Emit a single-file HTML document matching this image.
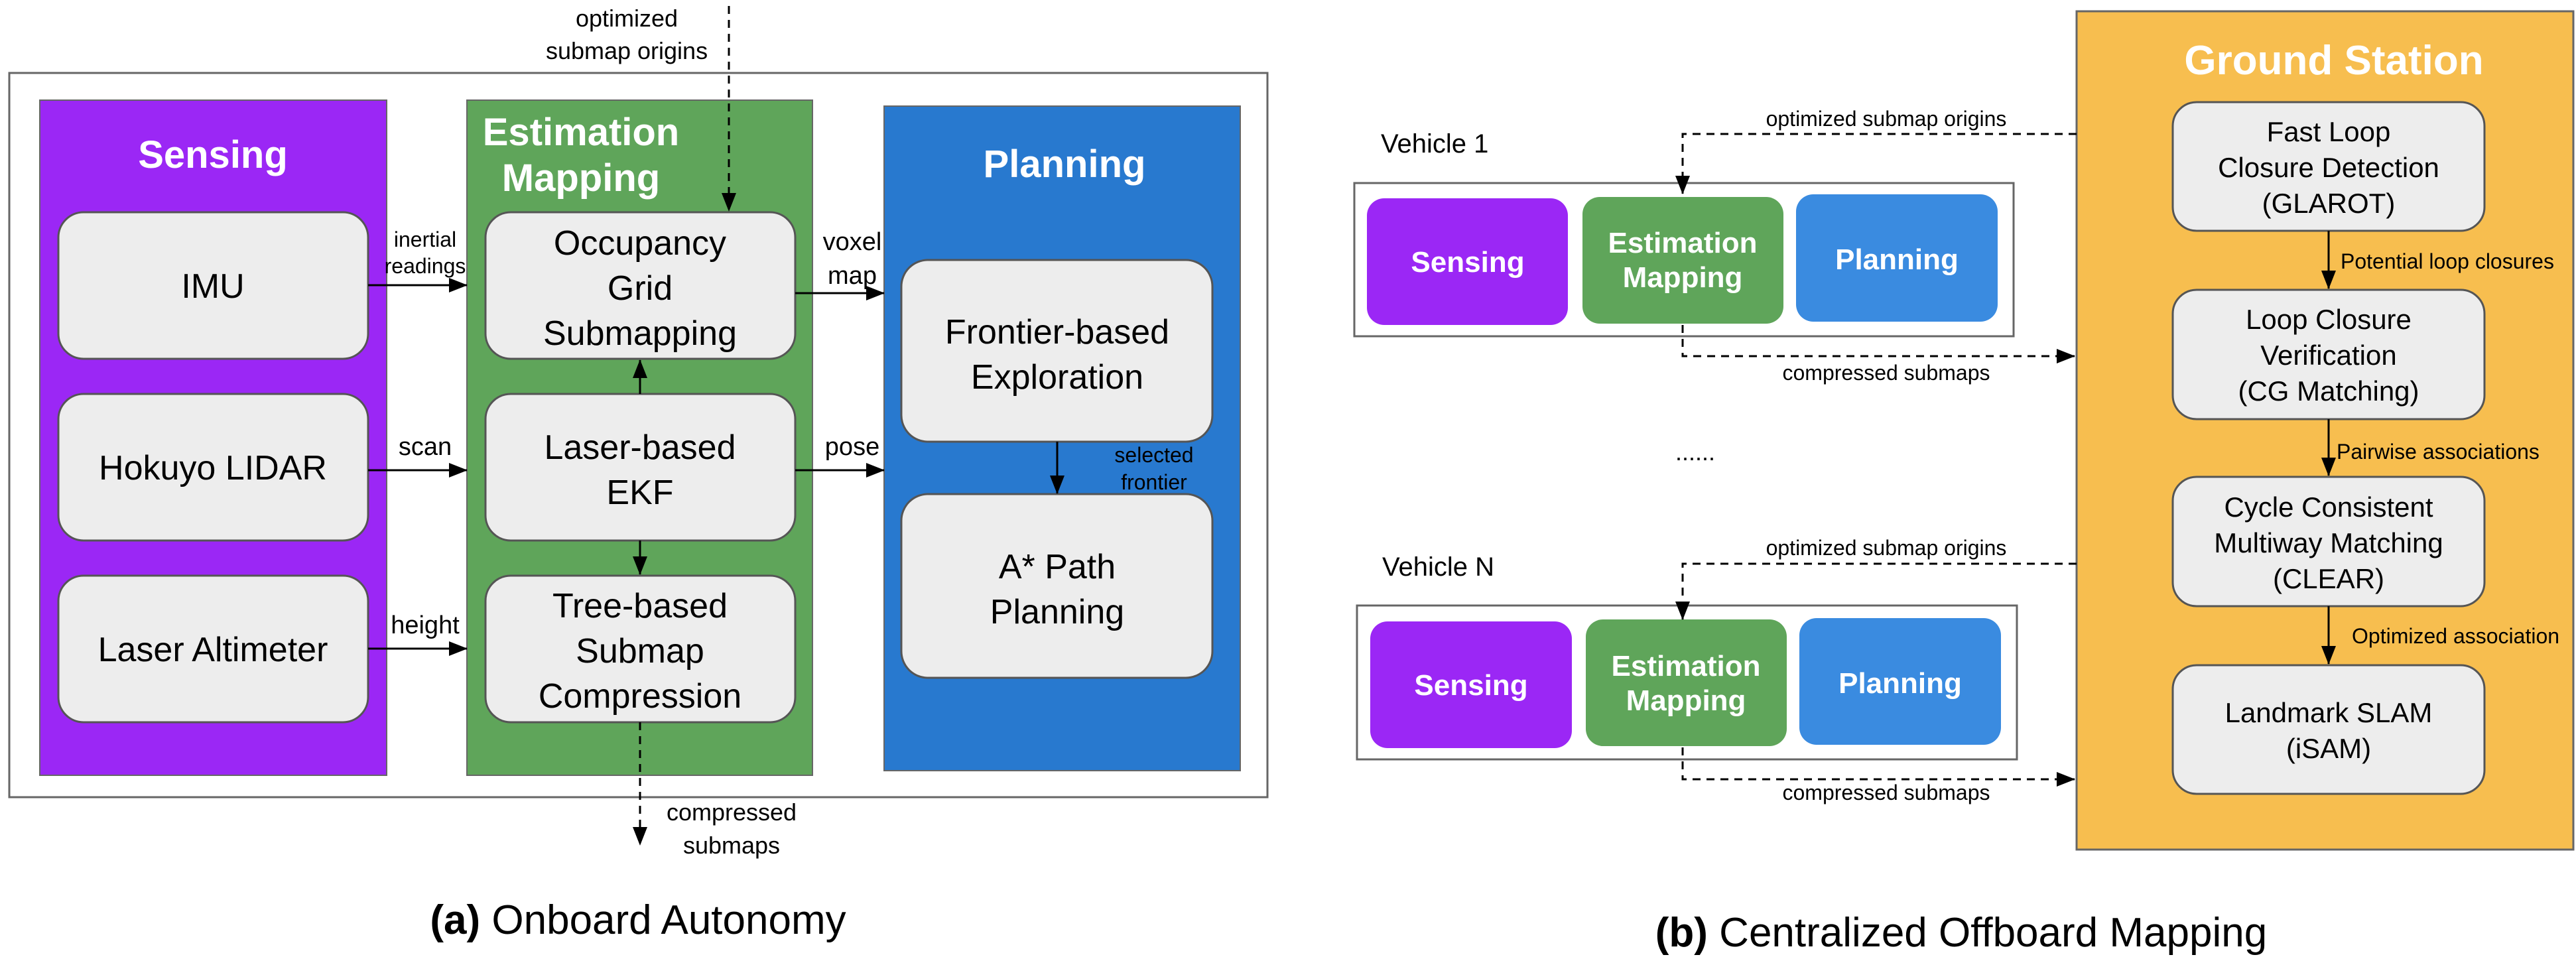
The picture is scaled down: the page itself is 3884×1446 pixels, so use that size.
<!DOCTYPE html>
<html><head><meta charset="utf-8"><style>
html,body{margin:0;padding:0;background:#fff}
svg{display:block}
text{font-family:"Liberation Sans",sans-serif}
</style></head><body>
<svg width="3884" height="1446" viewBox="0 0 3884 1446" xmlns="http://www.w3.org/2000/svg">
<defs>
<marker id="ar" markerWidth="10" markerHeight="8" refX="9.5" refY="4" orient="auto" markerUnits="userSpaceOnUse" viewBox="0 0 10 8"><path d="M0,0 L10,4 L0,8 z" fill="#000"/></marker>
<marker id="a2" markerWidth="28" markerHeight="22" refX="27" refY="11" orient="auto" markerUnits="userSpaceOnUse"><path d="M0,0 L28,11 L0,22 z" fill="#000"/></marker>
</defs>
<!-- LEFT PANEL -->
<rect x="14" y="110" width="1897" height="1092" fill="#fff" stroke="#666" stroke-width="3"/>
<rect x="60" y="151" width="523" height="1018" fill="#9B27F5" stroke="#666" stroke-width="2"/>
<rect x="704" y="151" width="521" height="1018" fill="#5FA55A" stroke="#666" stroke-width="2"/>
<rect x="1333" y="160" width="537" height="1002" fill="#2879CF" stroke="#666" stroke-width="2"/>
<g font-weight="bold" fill="#fff" font-size="58">
<text x="321" y="253" text-anchor="middle">Sensing</text>
<text x="876" y="219" text-anchor="middle">Estimation</text>
<text x="876" y="288" text-anchor="middle">Mapping</text>
<text x="1605" y="267" text-anchor="middle">Planning</text>
</g>
<g fill="#EDEDED" stroke="#555" stroke-width="3">
<rect x="88" y="320" width="467" height="221" rx="38"/>
<rect x="88" y="594" width="467" height="221" rx="38"/>
<rect x="88" y="868" width="467" height="221" rx="38"/>
<rect x="732" y="320" width="467" height="221" rx="38"/>
<rect x="732" y="594" width="467" height="221" rx="38"/>
<rect x="732" y="868" width="467" height="221" rx="38"/>
<rect x="1359" y="392" width="469" height="274" rx="40"/>
<rect x="1359" y="745" width="469" height="277" rx="40"/>
</g>
<g font-size="52" fill="#000" text-anchor="middle">
<text x="321" y="449">IMU</text>
<text x="321" y="723">Hokuyo LIDAR</text>
<text x="321" y="997">Laser Altimeter</text>
<text x="965" y="384">Occupancy</text>
<text x="965" y="452">Grid</text>
<text x="965" y="520">Submapping</text>
<text x="965" y="692">Laser-based</text>
<text x="965" y="760">EKF</text>
<text x="965" y="931">Tree-based</text>
<text x="965" y="999">Submap</text>
<text x="965" y="1067">Compression</text>
<text x="1594" y="518">Frontier-based</text>
<text x="1594" y="586">Exploration</text>
<text x="1594" y="872">A* Path</text>
<text x="1594" y="940">Planning</text>
</g>
<g stroke="#000" stroke-width="3" fill="none">
<line x1="555" y1="430" x2="704" y2="430" marker-end="url(#a2)"/>
<line x1="555" y1="709" x2="704" y2="709" marker-end="url(#a2)"/>
<line x1="555" y1="978" x2="704" y2="978" marker-end="url(#a2)"/>
<line x1="1199" y1="442" x2="1333" y2="442" marker-end="url(#a2)"/>
<line x1="1199" y1="709" x2="1333" y2="709" marker-end="url(#a2)"/>
<line x1="965" y1="594" x2="965" y2="543" marker-end="url(#a2)"/>
<line x1="965" y1="815" x2="965" y2="866" marker-end="url(#a2)"/>
<line x1="1594" y1="666" x2="1594" y2="744" marker-end="url(#a2)"/>
<line x1="1099" y1="9" x2="1099" y2="318" stroke-dasharray="12,9" marker-end="url(#a2)"/>
<line x1="965" y1="1089" x2="965" y2="1274" stroke-dasharray="12,9" marker-end="url(#a2)"/>
</g>
<g font-size="32" fill="#000" text-anchor="middle">
<text x="641" y="372">inertial</text>
<text x="641" y="412">readings</text>
<text x="641" y="686" font-size="38">scan</text>
<text x="641" y="955" font-size="38">height</text>
<text x="1285" y="377" font-size="38">voxel</text>
<text x="1285" y="428" font-size="38">map</text>
<text x="1285" y="686" font-size="38">pose</text>
<text x="1740" y="697">selected</text>
<text x="1740" y="738">frontier</text>
<text x="945" y="40" font-size="36">optimized</text>
<text x="945" y="89" font-size="36">submap origins</text>
<text x="1103" y="1237" font-size="36">compressed</text>
<text x="1103" y="1287" font-size="36">submaps</text>
</g>
<text x="962" y="1408" font-size="62" text-anchor="middle"><tspan font-weight="bold">(a)</tspan> Onboard Autonomy</text>

<!-- RIGHT PANEL -->
<rect x="3131" y="17" width="749" height="1264" fill="#F7BE4F" stroke="#666" stroke-width="3"/>
<text x="3519" y="112" font-size="62" font-weight="bold" fill="#fff" text-anchor="middle">Ground Station</text>
<g fill="#EDEDED" stroke="#555" stroke-width="3">
<rect x="3276" y="154" width="470" height="194" rx="36"/>
<rect x="3276" y="437" width="470" height="195" rx="36"/>
<rect x="3276" y="719" width="470" height="195" rx="36"/>
<rect x="3276" y="1003" width="470" height="194" rx="36"/>
</g>
<g font-size="42" fill="#000" text-anchor="middle">
<text x="3511" y="213">Fast Loop</text>
<text x="3511" y="267">Closure Detection</text>
<text x="3511" y="321">(GLAROT)</text>
<text x="3511" y="496">Loop Closure</text>
<text x="3511" y="550">Verification</text>
<text x="3511" y="604">(CG Matching)</text>
<text x="3511" y="779">Cycle Consistent</text>
<text x="3511" y="833">Multiway Matching</text>
<text x="3511" y="887">(CLEAR)</text>
<text x="3511" y="1089">Landmark SLAM</text>
<text x="3511" y="1143">(iSAM)</text>
</g>
<g stroke="#000" stroke-width="3" fill="none">
<line x1="3511" y1="348" x2="3511" y2="435" marker-end="url(#a2)"/>
<line x1="3511" y1="632" x2="3511" y2="717" marker-end="url(#a2)"/>
<line x1="3511" y1="914" x2="3511" y2="1001" marker-end="url(#a2)"/>
</g>
<g font-size="32" fill="#000">
<text x="3529" y="405">Potential loop closures</text>
<text x="3523" y="692">Pairwise associations</text>
<text x="3546" y="970">Optimized association</text>
</g>
<!-- Vehicle 1 -->
<text x="2082" y="230" font-size="40">Vehicle 1</text>
<rect x="2042" y="276" width="994" height="231" fill="#fff" stroke="#666" stroke-width="3"/>
<rect x="2061" y="299" width="303" height="191" rx="26" fill="#9B27F5"/>
<rect x="2386" y="297" width="303" height="191" rx="26" fill="#5FA55A"/>
<rect x="2708" y="293" width="304" height="192" rx="26" fill="#3A8BE0"/>
<g font-size="44" font-weight="bold" fill="#fff" text-anchor="middle">
<text x="2213" y="410">Sensing</text>
<text x="2537" y="381">Estimation</text>
<text x="2537" y="433">Mapping</text>
<text x="2860" y="406">Planning</text>
</g>
<!-- Vehicle N -->
<text x="2084" y="868" font-size="40">Vehicle N</text>
<rect x="2046" y="913" width="995" height="232" fill="#fff" stroke="#666" stroke-width="3"/>
<rect x="2066" y="937" width="304" height="191" rx="26" fill="#9B27F5"/>
<rect x="2391" y="934" width="303" height="191" rx="26" fill="#5FA55A"/>
<rect x="2713" y="932" width="304" height="191" rx="26" fill="#3A8BE0"/>
<g font-size="44" font-weight="bold" fill="#fff" text-anchor="middle">
<text x="2218" y="1048">Sensing</text>
<text x="2542" y="1019">Estimation</text>
<text x="2542" y="1071">Mapping</text>
<text x="2865" y="1045">Planning</text>
</g>
<g stroke="#000" stroke-width="3" fill="none" stroke-dasharray="12,9">
<polyline points="3131,202 2537,202 2537,292" marker-end="url(#a2)"/>
<polyline points="2537,490 2537,537 3128,537" marker-end="url(#a2)"/>
<polyline points="3131,850 2537,850 2537,934" marker-end="url(#a2)"/>
<polyline points="2537,1127 2537,1175 3128,1175" marker-end="url(#a2)"/>
</g>
<g font-size="32" fill="#000" text-anchor="middle">
<text x="2844" y="190">optimized submap origins</text>
<text x="2844" y="573">compressed submaps</text>
<text x="2844" y="837">optimized submap origins</text>
<text x="2844" y="1206">compressed submaps</text>
<text x="2556" y="694" font-size="36">......</text>
</g>
<text x="2957" y="1427" font-size="62" text-anchor="middle"><tspan font-weight="bold">(b)</tspan> Centralized Offboard Mapping</text>
</svg>
</body></html>
